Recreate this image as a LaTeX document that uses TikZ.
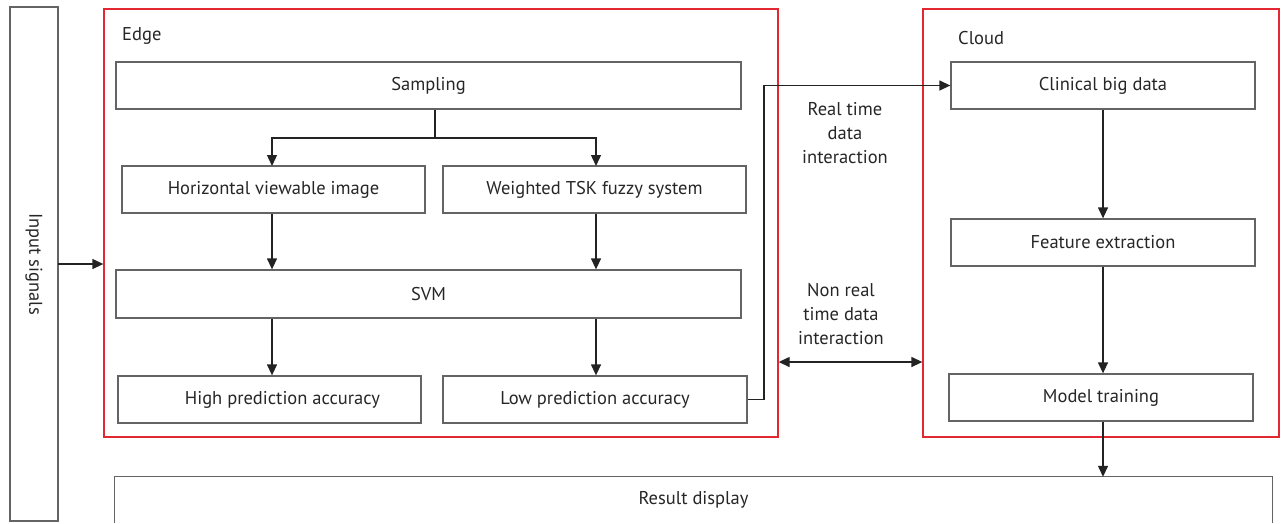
\documentclass[tikz,border=0pt]{standalone}
\usepackage{fontspec}
\setmainfont{PT Sans}
\usetikzlibrary{arrows.meta}
\definecolor{boxgray}{RGB}{100,100,100}
\definecolor{arrowgray}{RGB}{35,35,35}
\definecolor{edgered}{RGB}{228,40,50}
\tikzset{
  blk/.style={draw=boxgray, line width=1.3pt, inner sep=0pt, font=\fontsize{18.5}{22}\selectfont, text=black!85},
  grp/.style={draw=edgered, line width=1.3pt, inner sep=0pt},
  lbl/.style={inner sep=0pt, font=\fontsize{18.5}{22}\selectfont, text=black!85},
  arr/.style={draw=arrowgray, line width=1.3pt, -{Triangle[width=10pt,length=11pt]}},
  darr/.style={draw=arrowgray, line width=1.3pt, {Triangle[width=10pt,length=11pt]}-{Triangle[width=10pt,length=11pt]}},
  ln/.style={draw=arrowgray, line width=1.3pt}
}
\begin{document}
\begin{tikzpicture}[x=1pt,y=-1pt]
\useasboundingbox (0,0) rectangle (1281,523);
% groups
\node[grp, minimum width=674, minimum height=428] (edge) at (441,223) {};
\node[grp, minimum width=356, minimum height=428] (cloud) at (1101,223) {};
\node[lbl, anchor=west] (edgelbl) at (122,36) {Edge};
\node[lbl, anchor=west] (cloudlbl) at (958,38) {Cloud};
% input
\node[blk, rotate=-90, minimum width=514, minimum height=48] (input) at (34,264) {Input signals};
\coordinate (inR) at (58,264);
% edge blocks
\node[blk, minimum width=625, minimum height=47] (samp) at (428.5,85.5) {Sampling};
\node[blk, minimum width=303, minimum height=47] (hvi) at (273.5,189.5) {Horizontal viewable image};
\node[blk, minimum width=303, minimum height=47] (tsk) at (594.5,189.5) {Weighted TSK fuzzy system};
\node[blk, minimum width=625, minimum height=48] (svm) at (428.5,294) {SVM};
\node[blk, minimum width=303, minimum height=47] (high) at (269.5,399.5) {\hspace*{26pt}High prediction accuracy};
\node[blk, minimum width=304, minimum height=47] (low) at (595,399.5) {Low prediction accuracy};
% cloud blocks
\node[blk, minimum width=304, minimum height=47] (cbd) at (1103,85.5) {Clinical big data};
\node[blk, minimum width=304, minimum height=47] (fe) at (1103,242.5) {Feature extraction};
\node[blk, minimum width=304, minimum height=47] (mt) at (1101,397.5) {Model training};
% result
\node[lbl, minimum width=1157, minimum height=46] (res) at (693.5,500) {Result display};
\draw[draw=boxgray, line width=1.3pt] (res.south west) |- (res.north east) -- (res.south east);
% labels between
\node[lbl, align=center] (rt) at (845,133) {Real time\\[2pt]data\\[2pt]interaction};
\node[lbl, align=center] (nrt) at (841,314) {Non real\\[2pt]time data\\[2pt]interaction};
% connectors
\coordinate (br) at (435,138);
\draw[ln] (samp.south -| br) -- (br);
\draw[arr] (br) -| (272,166);
\draw[arr] (br) -| (596,166);
\draw[arr] (hvi.south -| 272,0) -- (svm.north -| 272,0);
\draw[arr] (tsk.south -| 596,0) -- (svm.north -| 596,0);
\draw[arr] (svm.south -| 272,0) -- (high.north -| 272,0);
\draw[arr] (svm.south -| 596,0) -- (low.north -| 596,0);
\coordinate (up) at (764,85.5);
\draw[arr] (low.east) -| (up) -- (cbd.west);
\draw[arr] (cbd.south) -- (fe.north);
\draw[arr] (fe.south) -- (fe.south |- mt.north);
\draw[arr] (mt.south -| 1103,0) -- (res.north -| 1103,0);
\draw[arr] (inR) -- (edge.west |- inR);
\draw[darr] (edge.east |- 0,362) -- (cloud.west |- 0,362);
\end{tikzpicture}
\end{document}
